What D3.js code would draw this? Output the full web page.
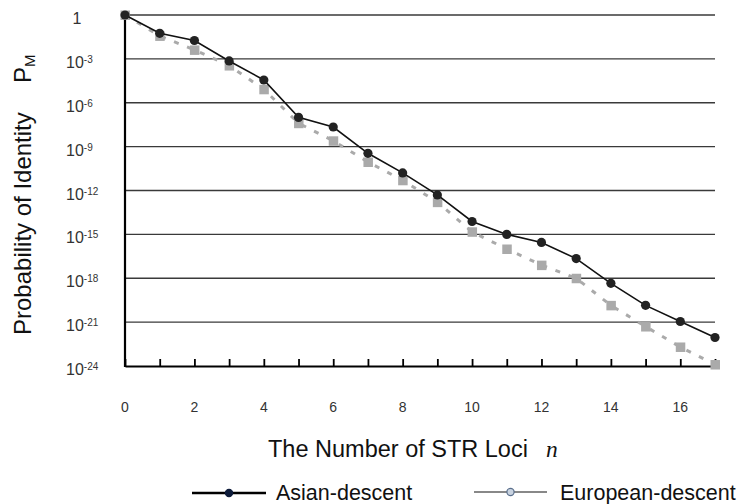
<!DOCTYPE html>
<html>
<head>
<meta charset="utf-8">
<script src="https://cdn.jsdelivr.net/npm/d3@7/dist/d3.min.js"></script>
<style>
	body { margin: 0; background: #fff; }
	svg { font-family: "Liberation Sans", Arial, sans-serif; }
</style>
</head>
<body>
<svg id="chart" width="743" height="504"></svg>
<script>
//data
var loci = [0,1,2,3,4,5,6,7,8,9,10,11,12,13,14,15,16,17];
var asian = [1, 5.6e-2, 1.8e-2, 7.2e-4, 3.6e-5, 1.0e-7, 2.2e-8, 3.5e-10, 1.6e-11, 5.0e-13,
			 7.6e-15, 1.0e-15, 2.8e-16, 2.2e-17, 4.5e-19, 1.4e-20, 1.1e-21, 8.9e-23];
var european = [1, 3.7e-2, 4.1e-3, 3.5e-4, 8.3e-6, 4.0e-8, 2.5e-9, 8.9e-11, 5.0e-12, 1.6e-13,
				1.5e-15, 1.0e-16, 7.9e-18, 1.0e-18, 1.4e-20, 5.0e-22, 2.0e-23, 1.26e-24];
var xTicks = [0,2,4,6,8,10,12,14,16];
var yExps = [0,-3,-6,-9,-12,-15,-18,-21,-24];
var seriesNames = ["Asian-descent", "European-descent"];

//layout (plot box edges)
var plotL = 125, plotR = 715, plotT = 15, plotB = 366;

var x = d3.scaleLinear().domain([0,17]).range([plotL,plotR]);
var y = d3.scaleLog().domain([1,1e-24]).range([plotT,plotB]);

var svg = d3.select("#chart");

//gridlines
svg.selectAll(".grid")
	.data(yExps.slice(0, yExps.length-1))
	.enter()
	.append("line")
	.attr("x1", plotL)
	.attr("x2", plotR)
	.attr("y1", function(d){ return y(Math.pow(10,d)); })
	.attr("y2", function(d){ return y(Math.pow(10,d)); })
	.attr("stroke", "#3a3a3a")
	.attr("stroke-width", 1.4);

//bottom axis with inner ticks
var xAxis = d3.axisBottom(x)
	.tickValues(d3.range(0,18))
	.tickSizeInner(-7)
	.tickSizeOuter(0)
	.tickFormat("");
var gx = svg.append("g")
	.attr("transform", `translate(0,${plotB})`)
	.call(xAxis);
gx.select(".domain").attr("stroke", "#000").attr("stroke-width", 2.2);
gx.selectAll(".tick line").attr("stroke", "#000").attr("stroke-width", 1.8);

//left axis line
svg.append("line")
	.attr("x1", plotL).attr("x2", plotL)
	.attr("y1", plotT).attr("y2", plotB + 1)
	.attr("stroke", "#000")
	.attr("stroke-width", 2.2);

//x tick labels
svg.selectAll(".xlab")
	.data(xTicks)
	.enter()
	.append("text")
	.attr("x", function(d){ return x(d); })
	.attr("y", 412)
	.attr("text-anchor", "middle")
	.attr("font-size", 14)
	.attr("fill", "#333")
	.text(function(d){ return d; });

//y tick labels, 10 with superscript exponent
var ylab = svg.selectAll(".ylab")
	.data(yExps)
	.enter()
	.append("text")
	.attr("x", function(d){ return d === 0 ? 77 : 66; })
	.attr("y", function(d){ return y(Math.pow(10,d)) + 9; })
	.attr("text-anchor", function(d){ return d === 0 ? "middle" : "start"; })
	.attr("font-size", 16)
	.attr("fill", "#333");
ylab.append("tspan")
	.text(function(d){ return d === 0 ? "1" : "10"; });
ylab.filter(function(d){ return d !== 0; })
	.append("tspan")
	.attr("dy", -5)
	.attr("font-size", 10)
	.text(function(d){ return "-" + (-d); });

//european series - dotted gray with squares
var line = d3.line()
	.x(function(d,i){ return x(loci[i]); })
	.y(function(d){ return y(d); });

svg.append("path")
	.datum(european)
	.attr("d", line)
	.attr("fill", "none")
	.attr("stroke", "#aaa")
	.attr("stroke-width", 3)
	.attr("stroke-dasharray", "5,9");

svg.selectAll(".eu")
	.data(european)
	.enter()
	.append("rect")
	.attr("x", function(d,i){ return x(loci[i]) - 4.5; })
	.attr("y", function(d){ return y(d) - 4.5; })
	.attr("width", 9.5)
	.attr("height", 9.5)
	.attr("fill", "#aaa");

//asian series - solid black with circles
svg.append("path")
	.datum(asian)
	.attr("d", line)
	.attr("fill", "none")
	.attr("stroke", "#111")
	.attr("stroke-width", 1.6);

svg.selectAll(".as")
	.data(asian)
	.enter()
	.append("circle")
	.attr("cx", function(d,i){ return x(loci[i]); })
	.attr("cy", function(d){ return y(d); })
	.attr("r", 4.6)
	.attr("fill", "#222");

//axis titles
var xt = svg.append("text")
	.attr("x", 268)
	.attr("y", 457)
	.attr("font-size", 23.5)
	.attr("fill", "#111");
xt.append("tspan").text("The Number of STR Loci");
xt.append("tspan")
	.attr("x", 546)
	.attr("font-family", "'Liberation Serif', serif")
	.attr("font-style", "italic")
	.text("n");

var yt = svg.append("text")
	.attr("transform", "translate(31,335) rotate(-90)")
	.attr("font-size", 24)
	.attr("fill", "#111");
yt.append("tspan").text("Probability of Identity");
yt.append("tspan")
	.attr("x", 252)
	.text("P");
yt.append("tspan")
	.attr("dy", 4)
	.attr("font-size", 15)
	.text("M");

//legend
var legend = [
	{x1: 192, x2: 266, cy: 493, tx: 276, stroke: "#000", sw: 2.5, fill: "#0d1b3a", mstroke: "#0d1b3a"},
	{x1: 474, x2: 547, cy: 492, tx: 560, stroke: "#888", sw: 1.8, fill: "#c9d3e0", mstroke: "#5a6f8c"}
];
var lg = svg.selectAll(".lg")
	.data(legend)
	.enter()
	.append("g");
lg.append("line")
	.attr("x1", function(d){ return d.x1; })
	.attr("x2", function(d){ return d.x2; })
	.attr("y1", function(d){ return d.cy; })
	.attr("y2", function(d){ return d.cy; })
	.attr("stroke", function(d){ return d.stroke; })
	.attr("stroke-width", function(d){ return d.sw; });
lg.append("circle")
	.attr("cx", function(d){ return (d.x1 + d.x2) / 2; })
	.attr("cy", function(d){ return d.cy; })
	.attr("r", 3.6)
	.attr("fill", function(d){ return d.fill; })
	.attr("stroke", function(d){ return d.mstroke; })
	.attr("stroke-width", 1.2);
lg.append("text")
	.attr("x", function(d){ return d.tx; })
	.attr("y", 500)
	.attr("font-size", 21.5)
	.attr("fill", "#111")
	.text(function(d,i){ return seriesNames[i]; });
</script>
</body>
</html>
